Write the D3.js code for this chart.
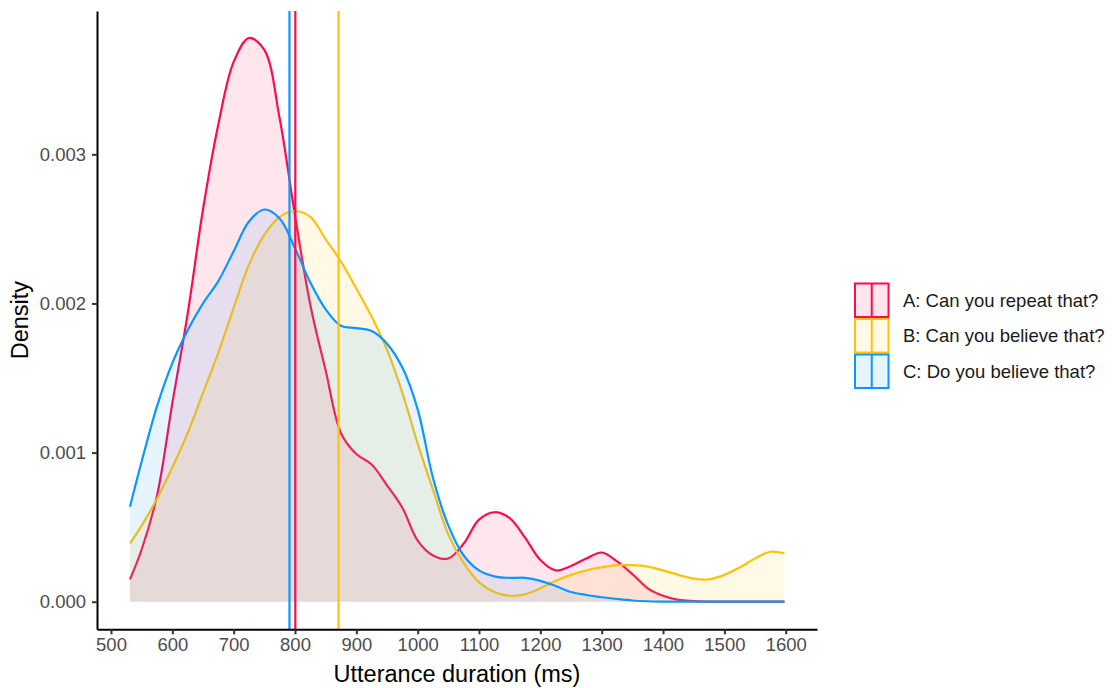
<!DOCTYPE html>
<html>
<head>
<meta charset="utf-8">
<script src="https://cdn.jsdelivr.net/npm/d3@7/dist/d3.min.js"></script>
<style>
  body { margin: 0; background: #fff; }
  svg { display: block; font-family: "Liberation Sans", Arial, sans-serif; }
</style>
</head>
<body>
<svg id="chart" width="1118" height="688"></svg>
<script>
// Grid of durations (ms) the densities were read at
const durations = [531, 550, 575, 600, 625, 650, 675, 700, 725, 750, 775, 800, 825, 850, 875, 900,
  925, 950, 975, 1000, 1025, 1050, 1075, 1100, 1125, 1150, 1175, 1200, 1225, 1250, 1275, 1300,
  1325, 1350, 1375, 1400, 1425, 1450, 1475, 1500, 1525, 1550, 1575, 1598];

// Density values (x 0.001)
const densA = [0.15, 0.35, 0.71, 1.33, 1.93, 2.63, 3.20, 3.62, 3.78, 3.70, 3.24, 2.59, 1.99, 1.55, 1.13, 0.99,
  0.92, 0.78, 0.63, 0.41, 0.31, 0.29, 0.39, 0.55, 0.60, 0.56, 0.43, 0.28, 0.21, 0.24, 0.29, 0.33,
  0.27, 0.185, 0.09, 0.04, 0.012, 0.004, 0.001, 0, 0, 0, 0, 0];
const densB = [0.39, 0.51, 0.69, 0.90, 1.13, 1.40, 1.67, 1.97, 2.26, 2.46, 2.58, 2.62, 2.58, 2.43, 2.28, 2.10,
  1.91, 1.69, 1.40, 1.06, 0.75, 0.45, 0.26, 0.13, 0.065, 0.04, 0.05, 0.09, 0.14, 0.18, 0.21, 0.23,
  0.245, 0.245, 0.235, 0.21, 0.18, 0.155, 0.15, 0.18, 0.23, 0.29, 0.335, 0.325];
const densC = [0.637, 0.94, 1.31, 1.60, 1.82, 2.00, 2.15, 2.35, 2.55, 2.63, 2.57, 2.37, 2.14, 1.96, 1.85, 1.835,
  1.815, 1.73, 1.57, 1.29, 0.83, 0.51, 0.31, 0.21, 0.17, 0.16, 0.16, 0.14, 0.105, 0.065, 0.045, 0.03,
  0.018, 0.008, 0.003, 0.001, 0, 0, 0, 0, 0, 0, 0, 0];

const groupNames = ["A: Can you repeat that?", "B: Can you believe that?", "C: Do you believe that?"];
const groupMeans = [800.5, 871, 791];
const groupColors = ["#FF0A50", "#FFC20A", "#0A97FF"];

const xTicks = [500, 600, 700, 800, 900, 1000, 1100, 1200, 1300, 1400, 1500, 1600];
const yTicks = [0, 0.001, 0.002, 0.003];

const svg = d3.select("#chart");

// Panel edges
const pLeft = 97, pRight = 817, pTop = 11, pBottom = 629.3;

const x = d3.scaleLinear().domain([477.2, 1651]).range([pLeft, pRight]);
const y = d3.scaleLinear().domain([-0.000185, 0.003961]).range([pBottom, pTop]);

// Build series
const series = [densA, densB, densC].map((vals, i) => ({
  name: groupNames[i],
  color: groupColors[i],
  mean: groupMeans[i],
  points: durations.map((d, j) => [d, vals[j] / 1000])
}));

const area = d3.area()
  .x(d => x(d[0]))
  .y0(y(0))
  .y1(d => y(d[1]))
  .curve(d3.curveCatmullRom.alpha(0.5));

const line = d3.line()
  .x(d => x(d[0]))
  .y(d => y(d[1]))
  .curve(d3.curveCatmullRom.alpha(0.5));

const plot = svg.append("g");

series.forEach(s => {
  plot.append("path")
    .attr("d", area(s.points))
    .attr("fill", s.color)
    .attr("fill-opacity", 0.1);
  plot.append("path")
    .attr("d", line(s.points))
    .attr("fill", "none")
    .attr("stroke", s.color)
    .attr("stroke-width", 2.2);
});

// Mean lines
series.forEach(s => {
  plot.append("line")
    .attr("x1", x(s.mean)).attr("x2", x(s.mean))
    .attr("y1", pTop).attr("y2", pBottom)
    .attr("stroke", s.color)
    .attr("stroke-width", 2.2);
});

// Axes
const xAxis = svg.append("g")
  .attr("transform", `translate(0,${pBottom})`)
  .call(d3.axisBottom(x).tickValues(xTicks).tickFormat(d3.format("d")).tickSize(5).tickSizeOuter(0).tickPadding(4));

const yAxis = svg.append("g")
  .attr("transform", `translate(${pLeft},0)`)
  .call(d3.axisLeft(y).tickValues(yTicks).tickFormat(d3.format(".3f")).tickSize(5).tickSizeOuter(0).tickPadding(6));

[xAxis, yAxis].forEach(a => {
  a.select(".domain").attr("stroke", "#000").attr("stroke-width", 2);
  a.selectAll(".tick line").attr("stroke", "#333").attr("stroke-width", 2);
  a.selectAll(".tick text")
    .attr("fill", "#4d4d4d")
    .style("font-size", "18.5px")
    .style("font-family", "'Liberation Sans', Arial, sans-serif");
});

// Axis titles
svg.append("text")
  .attr("x", (pLeft + pRight) / 2)
  .attr("y", 682)
  .attr("text-anchor", "middle")
  .style("font-size", "23.5px")
  .attr("fill", "#000")
  .text("Utterance duration (ms)");

svg.append("text")
  .attr("transform", `translate(28,${(pTop + pBottom) / 2}) rotate(-90)`)
  .attr("text-anchor", "middle")
  .style("font-size", "23.5px")
  .attr("fill", "#000")
  .text("Density");

// Legend
const keySize = 35.5;
const legend = svg.append("g").attr("transform", "translate(854,282.5)");
series.forEach((s, i) => {
  const g = legend.append("g").attr("transform", `translate(0,${i * keySize})`);
  g.append("rect")
    .attr("x", 1).attr("y", 1)
    .attr("width", keySize - 2).attr("height", keySize - 2)
    .attr("fill", s.color).attr("fill-opacity", 0.1)
    .attr("stroke", s.color).attr("stroke-width", 2);
  g.append("line")
    .attr("x1", keySize / 2).attr("x2", keySize / 2)
    .attr("y1", 1).attr("y2", keySize - 1)
    .attr("stroke", s.color).attr("stroke-width", 2);
  g.append("text")
    .attr("x", 49)
    .attr("y", keySize / 2)
    .attr("dy", "0.35em")
    .style("font-size", "18.5px")
    .attr("fill", "#1a1a1a")
    .text(s.name);
});
</script>
</body>
</html>
